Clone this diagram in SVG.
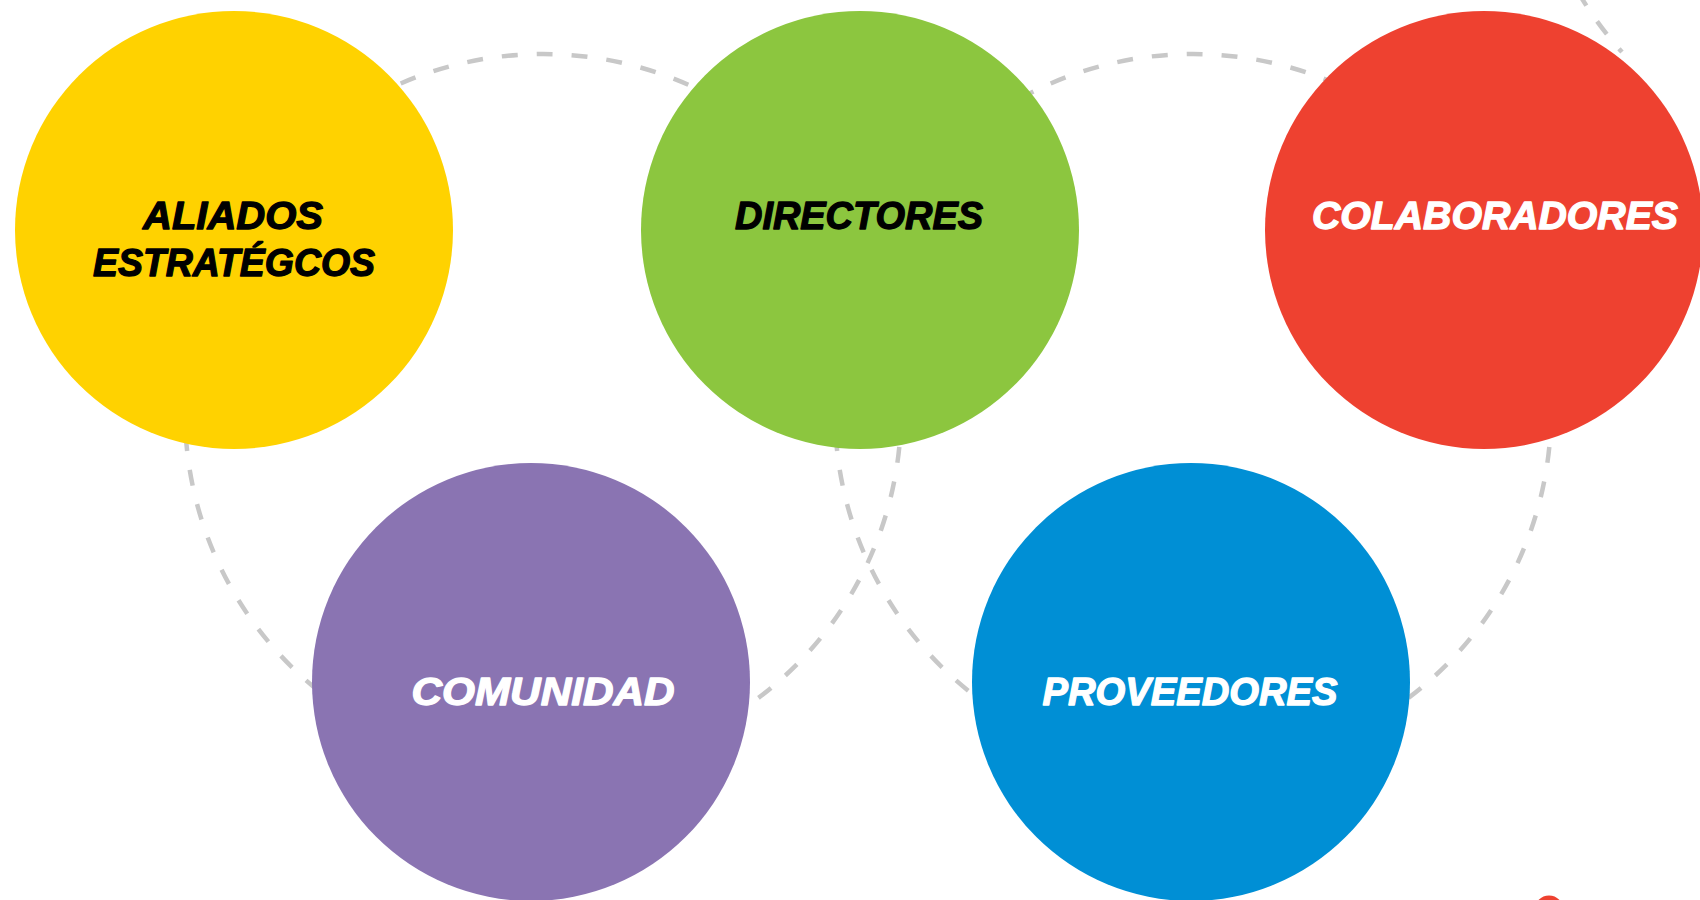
<svg xmlns="http://www.w3.org/2000/svg" width="1700" height="900" viewBox="0 0 1700 900">
  <style>
    .ring { fill: none; stroke: #c8c8c8; stroke-width: 4.5; stroke-dasharray: 16 19; }
    .lbl { font-family: "Liberation Sans", Arial, sans-serif; font-weight: 700; font-style: italic; font-size: 38px; text-anchor: middle; stroke-width: 1.3; stroke-linejoin: round; }
    .dark { fill: #000000; stroke: #000000; }
    .light { fill: #ffffff; stroke: #ffffff; }
  </style>
  <rect width="1700" height="900" fill="#ffffff"/>
  <g id="connectors">
    <circle class="ring" cx="543" cy="412" r="358"/>
    <circle class="ring" cx="1193" cy="412" r="358"/>
    <path class="ring" d="M1578,-8 A358,358 0 0,0 1622,52"/>
  </g>
  <g id="node-aliados">
    <circle cx="234" cy="230" r="219" fill="#FFD200"/>
    <text class="lbl dark" x="233" y="229" textLength="180" lengthAdjust="spacingAndGlyphs">ALIADOS</text>
    <text class="lbl dark" x="234" y="276" textLength="282" lengthAdjust="spacingAndGlyphs">ESTRATÉGCOS</text>
  </g>
  <g id="node-directores">
    <circle cx="860" cy="230" r="219" fill="#8CC63F"/>
    <text class="lbl dark" x="859" y="229" textLength="248" lengthAdjust="spacingAndGlyphs">DIRECTORES</text>
  </g>
  <g id="node-colaboradores">
    <circle cx="1484" cy="230" r="219" fill="#EE4130"/>
    <text class="lbl light" x="1495" y="229" textLength="366" lengthAdjust="spacingAndGlyphs">COLABORADORES</text>
  </g>
  <g id="node-comunidad">
    <circle cx="531" cy="682" r="219" fill="#8A74B2"/>
    <text class="lbl light" x="543" y="705" textLength="263" lengthAdjust="spacingAndGlyphs">COMUNIDAD</text>
  </g>
  <g id="node-proveedores">
    <circle cx="1191" cy="682" r="219" fill="#008FD5"/>
    <text class="lbl light" x="1190" y="705" textLength="295" lengthAdjust="spacingAndGlyphs">PROVEEDORES</text>
  </g>
  <g id="node-extra">
    <circle cx="1549" cy="910" r="14.5" fill="#EE4130"/>
  </g>
</svg>
